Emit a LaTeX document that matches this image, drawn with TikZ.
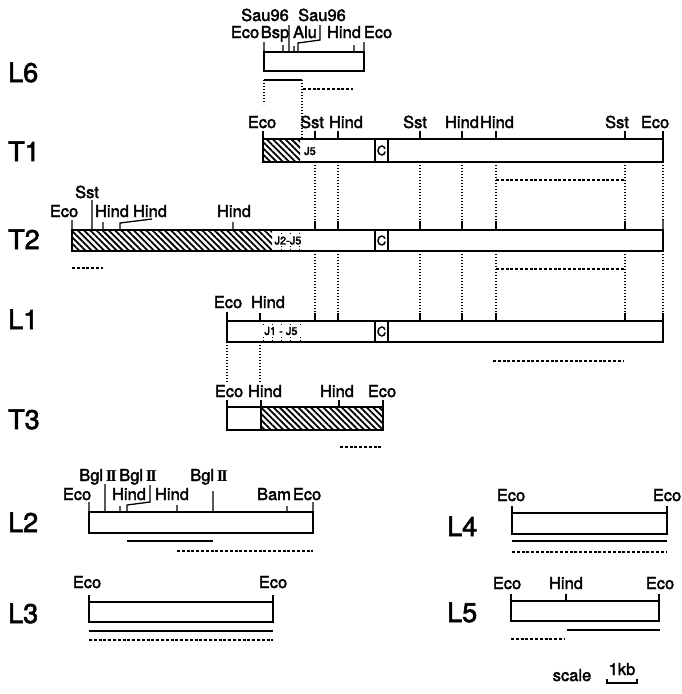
\documentclass[tikz,border=0pt]{standalone}
\usepackage{fontspec}
\setmainfont{TeX Gyre Heros}
\newfontfamily\labfont{TeX Gyre Heros}[BoldFont={TeX Gyre Heros},BoldFeatures={FakeBold=2.2}]
\newfontfamily\romfont{Liberation Serif}
\usetikzlibrary{patterns.meta}
\newcommand{\bglII}{Bgl\,{\romfont\bfseries I\kern-0.12em I}}
\tikzset{
  mapfig/.style={x=1pt,y=-1pt},
  mapbox/.style={line width=2pt},
  sitetick/.style={line width=1.3pt},
  sitelbl/.style={font=\labfont\bfseries\fontsize{16.5}{19}\selectfont,anchor=base,inner sep=0pt},
  rowlbl/.style={font=\labfont\bfseries\fontsize{27}{30}\selectfont,anchor=base west,inner sep=0pt},
  jlbl/.style={font=\labfont\bfseries\fontsize{11}{12}\selectfont,inner sep=0pt},
  clbl/.style={font=\labfont\bfseries\fontsize{13}{13}\selectfont,inner sep=0pt},
  cregion/.style={line width=2.2pt,fill=white},
  probeline/.style={line width=1.8pt},
  probedash/.style={line width=1.5pt,dash pattern=on 3pt off 1.8pt},
  linkdot/.style={line width=1.4pt,dash pattern=on 1.3pt off 1.7pt},
  hatchfill/.style={pattern={Lines[angle=-45,distance=4.4pt,line width=1.8pt]}}
}

\begin{document}
\begin{tikzpicture}[mapfig]
    \useasboundingbox (0,0) rectangle (681,694);
    % row names
    \foreach \t/\x/\y [count=\i] in {L6/8/82,T1/8/161,T2/8/249,L1/8/329,T3/8/429,L2/8/532,L3/8/623,L4/447/536,L5/447/622}
      \node[rowlbl] (row\i) at (\x,\y) {\t};

    % L6
    \draw[mapbox] (264,52) rectangle (364,71);
    \draw[sitetick] (264,52) -- (264,42) (364,52) -- (364,42) (283,52) -- (283,45) (289,52) -- (289,25)
      (294,52) -- (294,46) (298,52) -- (298,43) -- (320,40) -- (320,25) (354,52) -- (354,45);
    \node[sitelbl] (l6u1) at (265,21) {Sau96};
    \node[sitelbl] (l6u2) at (322,21) {Sau96};
    \foreach \x/\t [count=\i] in {245/Eco,275/Bsp,305/Alu,344/Hind,378/Eco}
      \node[sitelbl] (l6s\i) at (\x,38) {\t};
    \draw[probeline] (264,80) -- (302,80);
    \draw[probedash] (303,89) -- (353,89);
    \draw[linkdot] (264,80) -- (264,104) (302,80) -- (302,139);

    % T1
    \fill[hatchfill] (263,139) rectangle (300,162);
    \draw[mapbox] (263,139) rectangle (663,162);
    \draw[cregion] (375,139) rectangle (388,162);
    \node[clbl] (t1c) at (381.5,150.5) {C};
    \node[jlbl] (t1j) at (310,151) {J5};
    \draw[sitetick] (263,139) -- (263,131) (663,139) -- (663,131);
    \foreach \x in {315,338,420,462,496,625} \draw[sitetick] (\x,139) -- (\x,131);
    \foreach \x/\t [count=\i] in {262/Eco,312/Sst,346/Hind,415/Sst,462/Hind,497/Hind,617/Sst,655/Eco}
      \node[sitelbl] (t1s\i) at (\x,128) {\t};
    \foreach \x in {315,338,420,462,496,625,663} \draw[linkdot] (\x,162) -- (\x,220);
    \draw[probedash] (496,180) -- (625,180);

    % T2
    \fill[hatchfill] (72,230) rectangle (272,251);
    \draw[mapbox] (72,230) rectangle (663,251);
    \draw[cregion] (375,230) rectangle (388,251);
    \node[clbl] (t2c) at (381.5,240.5) {C};
    \foreach \x in {281,290,299} \draw[linkdot,line width=1pt] (\x,246) -- (\x,251) (\x,230) -- (\x,234);
    \node[jlbl] (t2j) at (288,240.5) {J2-J5};
    \draw[sitetick] (72,230) -- (72,220) (92,230) -- (92,200) (103,230) -- (103,222)
      (120,230) -- (120,223) -- (152,219) (233,230) -- (233,222) (663,230) -- (663,220);
    \foreach \x in {315,338,420,462,496,625} \draw[sitetick] (\x,230) -- (\x,221);
    \node[sitelbl] (t2s1) at (87,198) {Sst};
    \foreach \x/\t [count=\i from 2] in {64/Eco,112/Hind,150/Hind,234/Hind}
      \node[sitelbl] (t2s\i) at (\x,217) {\t};
    \draw[probedash] (72,268) -- (103,268);
    \draw[probedash] (496,269) -- (625,269);
    \foreach \x in {315,338,420,462,496,625,663} \draw[linkdot] (\x,251) -- (\x,313);

    % L1
    \draw[mapbox] (227,321) rectangle (663,342);
    \draw[cregion] (375,321) rectangle (388,342);
    \node[clbl] (l1c) at (381.5,331.5) {C};
    \foreach \x in {263,272,281,290,300} \draw[linkdot,line width=1pt] (\x,337) -- (\x,342) (\x,321) -- (\x,325);
    \node[jlbl] (l1j) at (281,331) {J1 - J5};
    \draw[sitetick] (227,321) -- (227,312) (260,321) -- (260,313) (663,321) -- (663,313);
    \foreach \x in {315,338,420,462,496,625} \draw[sitetick] (\x,321) -- (\x,313);
    \node[sitelbl] (l1s1) at (228,308) {Eco};
    \node[sitelbl] (l1s2) at (268,308) {Hind};
    \draw[probedash] (493,361) -- (623,361);
    \draw[linkdot] (227,342) -- (227,383) (260,342) -- (260,383);

    % T3
    \fill[hatchfill] (261,407) rectangle (383,430);
    \draw[mapbox] (227,407) rectangle (383,430) (261,407) -- (261,430);
    \draw[sitetick] (227,407) -- (227,400) (261,407) -- (261,400) (339,407) -- (339,400) (383,407) -- (383,400);
    \foreach \x/\t [count=\i] in {229/Eco,265/Hind,337/Hind,382/Eco}
      \node[sitelbl] (t3s\i) at (\x,397) {\t};
    \draw[probedash] (340,447) -- (383,447);

    % L2
    \draw[mapbox] (89,512) rectangle (313,533);
    \draw[sitetick] (89,512) -- (89,502) (105,512) -- (105,484) (120,512) -- (120,506)
      (127,512) -- (127,505) -- (150,502) -- (150,485) (177,512) -- (177,505)
      (213,512) -- (213,491) (287,512) -- (287,506) (313,512) -- (313,502);
    \foreach \x [count=\i] in {98,138,209} \node[sitelbl] (l2b\i) at (\x,481) {\bglII};
    \foreach \x/\t [count=\i] in {77/Eco,129/Hind,172/Hind,274/Bam,307/Eco}
      \node[sitelbl] (l2s\i) at (\x,500) {\t};
    \draw[probeline] (127,541) -- (213,541);
    \draw[probedash] (177,551) -- (313,551);

    % L3
    \draw[mapbox] (89,602) rectangle (273,622);
    \draw[sitetick] (89,602) -- (89,595) (273,602) -- (273,595);
    \node[sitelbl] (l3s1) at (87,588) {Eco};
    \node[sitelbl] (l3s2) at (273,588) {Eco};
    \draw[probeline] (89,631) -- (273,631);
    \draw[probedash] (89,640) -- (273,640);

    % L4
    \draw[mapbox] (512,513) rectangle (667,534);
    \draw[sitetick] (512,513) -- (512,506) (667,513) -- (667,506);
    \node[sitelbl] (l4s1) at (511,501) {Eco};
    \node[sitelbl] (l4s2) at (667,501) {Eco};
    \draw[probeline] (512,541) -- (667,541);
    \draw[probedash] (512,552) -- (667,552);

    % L5
    \draw[mapbox] (511,601) rectangle (659,621);
    \draw[sitetick] (511,601) -- (511,594) (566,601) -- (566,594) (659,601) -- (659,594);
    \foreach \x/\t [count=\i] in {507/Eco,566/Hind,660/Eco}
      \node[sitelbl] (l5s\i) at (\x,589) {\t};
    \draw[probeline] (567,630) -- (660,630);
    \draw[probedash] (511,639) -- (564,639);

    % scale bar
    \node[sitelbl] (scl) at (572,681) {scale};
    \node[sitelbl] (kb) at (622,675) {1kb};
    \draw[sitetick] (607,679) -- (607,683) -- (637,683) -- (637,679);
\end{tikzpicture}
\end{document}
